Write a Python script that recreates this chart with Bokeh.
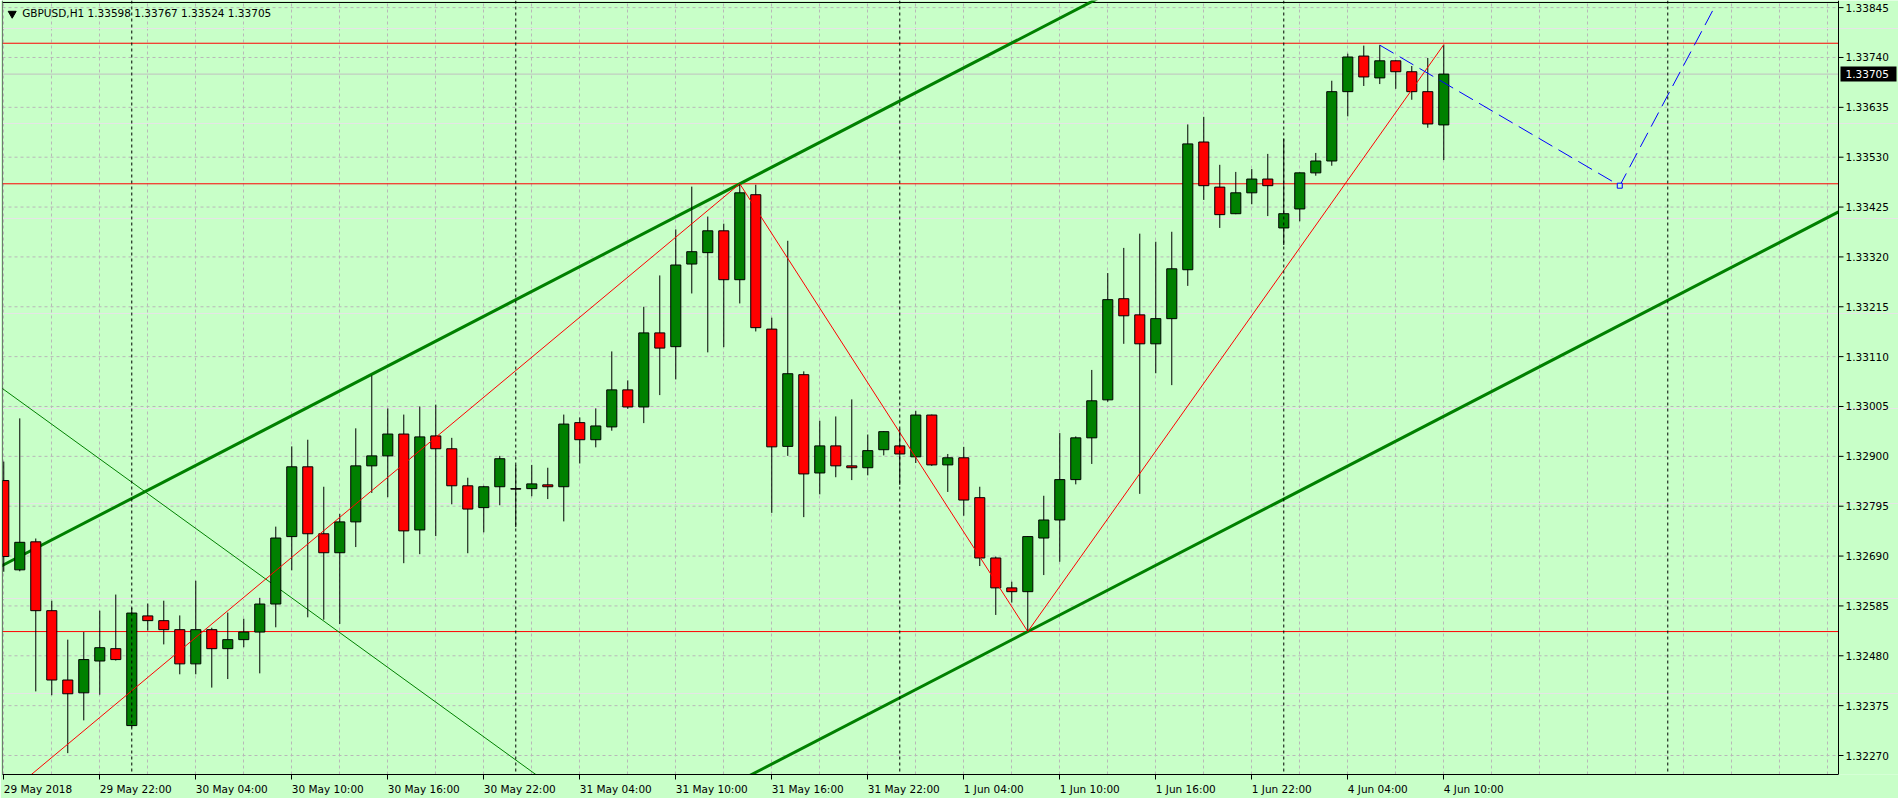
from bokeh.plotting import figure
from bokeh.models import Range1d, FixedTicker, Span, ColumnDataSource
from bokeh.core.properties import value
from bokeh.embed import file_html
from bokeh.resources import INLINE

# ---------------- data ----------------
symbol = "GBPUSD,H1"
last_ohlc = ["1.33598", "1.33767", "1.33524", "1.33705"]
bid_price = 1.33705
bid_label = "1.33705"

# bar index 0 = 29 May 22:00 (H1 bars, weekend skipped)
bar_index = list(range(-6, 85))

opens = [1.32849, 1.32661, 1.32720, 1.32575, 1.32429, 1.32402,
         1.32469, 1.32495, 1.32333, 1.32564, 1.32554, 1.32535, 1.32463, 1.32535, 1.32495, 1.32514,
         1.32530, 1.32589, 1.32731, 1.32878, 1.32737, 1.32697, 1.32762, 1.32880, 1.32901, 1.32947,
         1.32745, 1.32943, 1.32916, 1.32838, 1.32792, 1.32836, 1.32832, 1.32832, 1.32840, 1.32836,
         1.32971, 1.32935, 1.32962, 1.33040, 1.33004, 1.33160, 1.33131, 1.33305, 1.33329, 1.33375,
         1.33272, 1.33451, 1.33168, 1.32921, 1.33072, 1.32865, 1.32922, 1.32880, 1.32876, 1.32914,
         1.32922, 1.32899, 1.32987, 1.32882, 1.32897, 1.32813, 1.32686, 1.32623, 1.32615, 1.32728,
         1.32766, 1.32851, 1.32939, 1.33019, 1.33232, 1.33198, 1.33137, 1.33190, 1.33293, 1.33562,
         1.33467, 1.33411, 1.33455, 1.33484, 1.33381, 1.33421, 1.33497, 1.33522, 1.33668, 1.33743,
         1.33697, 1.33733, 1.33710, 1.33668, 1.33598]
highs = [1.32889, 1.32980, 1.32727, 1.32596, 1.32514, 1.32530,
         1.32575, 1.32609, 1.32581, 1.32590, 1.32596, 1.32565, 1.32638, 1.32539, 1.32571, 1.32558,
         1.32602, 1.32752, 1.32921, 1.32935, 1.32836, 1.32779, 1.32959, 1.33070, 1.33001, 1.32988,
         1.33005, 1.33009, 1.32939, 1.32855, 1.32838, 1.32901, 1.32882, 1.32882, 1.32876, 1.32988,
         1.32982, 1.33001, 1.33121, 1.33060, 1.33215, 1.33281, 1.33378, 1.33468, 1.33405, 1.33390,
         1.33474, 1.33472, 1.33192, 1.33354, 1.33079, 1.32975, 1.32984, 1.33020, 1.32946, 1.32953,
         1.32958, 1.32996, 1.32988, 1.32905, 1.32920, 1.32836, 1.32689, 1.32636, 1.32732, 1.32817,
         1.32949, 1.32942, 1.33082, 1.33286, 1.33339, 1.33369, 1.33352, 1.33373, 1.33599, 1.33615,
         1.33514, 1.33499, 1.33505, 1.33537, 1.33569, 1.33498, 1.33539, 1.33691, 1.33748, 1.33765,
         1.33766, 1.33734, 1.33722, 1.33739, 1.33767]
lows = [1.32657, 1.32658, 1.32405, 1.32397, 1.32275, 1.32344,
        1.32398, 1.32470, 1.32329, 1.32533, 1.32504, 1.32441, 1.32441, 1.32413, 1.32431, 1.32498,
        1.32443, 1.32540, 1.32660, 1.32561, 1.32556, 1.32547, 1.32709, 1.32823, 1.32814, 1.32675,
        1.32694, 1.32732, 1.32799, 1.32696, 1.32740, 1.32797, 1.32751, 1.32816, 1.32810, 1.32763,
        1.32885, 1.32919, 1.32954, 1.33000, 1.32970, 1.33029, 1.33062, 1.33243, 1.33119, 1.33130,
        1.33222, 1.33163, 1.32781, 1.32901, 1.32772, 1.32820, 1.32856, 1.32850, 1.32860, 1.32902,
        1.32840, 1.32886, 1.32880, 1.32825, 1.32775, 1.32669, 1.32566, 1.32592, 1.32531, 1.32650,
        1.32678, 1.32841, 1.32884, 1.33015, 1.33137, 1.32821, 1.33075, 1.33050, 1.33259, 1.33440,
        1.33381, 1.33410, 1.33431, 1.33406, 1.33345, 1.33395, 1.33491, 1.33512, 1.33616, 1.33680,
        1.33684, 1.33674, 1.33651, 1.33592, 1.33524]
closes = [1.32689, 1.32719, 1.32575, 1.32429, 1.32400, 1.32472,
          1.32497, 1.32472, 1.32570, 1.32554, 1.32535, 1.32463, 1.32535, 1.32495, 1.32514, 1.32530,
          1.32589, 1.32728, 1.32878, 1.32737, 1.32697, 1.32762, 1.32880, 1.32901, 1.32947, 1.32743,
          1.32941, 1.32916, 1.32838, 1.32789, 1.32836, 1.32895, 1.32831, 1.32842, 1.32836, 1.32968,
          1.32935, 1.32964, 1.33040, 1.33004, 1.33160, 1.33128, 1.33303, 1.33331, 1.33375, 1.33272,
          1.33455, 1.33171, 1.32920, 1.33074, 1.32863, 1.32922, 1.32880, 1.32876, 1.32912, 1.32952,
          1.32905, 1.32987, 1.32882, 1.32897, 1.32808, 1.32686, 1.32623, 1.32615, 1.32731, 1.32766,
          1.32851, 1.32939, 1.33017, 1.33230, 1.33196, 1.33137, 1.33190, 1.33295, 1.33558, 1.33470,
          1.33409, 1.33455, 1.33484, 1.33470, 1.33411, 1.33497, 1.33522, 1.33668, 1.33741, 1.33699,
          1.33733, 1.33710, 1.33668, 1.33600, 1.33705]

# x-axis labels (every 6 bars) and their bar index
x_tick_pos = [-6, 0, 6, 12, 18, 24, 30, 36, 42, 48, 54, 60, 66, 72, 78, 84]
x_tick_labels = ["29 May 2018", "29 May 22:00", "30 May 04:00", "30 May 10:00", "30 May 16:00",
                 "30 May 22:00", "31 May 04:00", "31 May 10:00", "31 May 16:00", "31 May 22:00",
                 "1 Jun 04:00", "1 Jun 10:00", "1 Jun 16:00", "1 Jun 22:00", "4 Jun 04:00", "4 Jun 10:00"]
y_tick_labels = ["1.32270", "1.32375", "1.32480", "1.32585", "1.32690", "1.32795", "1.32900",
                 "1.33005", "1.33110", "1.33215", "1.33320", "1.33425", "1.33530", "1.33635",
                 "1.33740", "1.33845"]
y_ticks = [float(s) for s in y_tick_labels]

day_separators = [2, 26, 50, 74, 98]          # 30 May, 31 May, 1 Jun, 4 Jun, 5 Jun 00:00
h_levels = [1.33770, 1.33474, 1.32531]         # red horizontal levels

zigzag_x = [-12, 40, 58, 84]
zigzag_y = [1.32013, 1.33474, 1.32531, 1.33767]

chan_slope = 0.0001744
chan_anchor_upper = (40, 1.33474)
chan_anchor_lower = (58, 1.32531)

trend_x = [-12, 30]
trend_y = [1.33187, 1.32163]

proj_x = [80, 95, 101]
proj_y = [1.33766, 1.33470, 1.33851]

# ---------------- style / geometry ----------------
BG = "#C8FFC8"
GREEN = "#008000"
RED = "#FF0000"
GRID = "#B8B8B8"
FONT = "DejaVu Sans"
FS = "10.5px"
PX = 16.0                       # pixels per bar
X0 = -6.08                      # left edge of the frame (bar units)
AX = X0 + 1836 / PX             # position of the price scale line
X1 = X0 + 1896 / PX             # right edge of the frame
Y0, Y1 = 1.32230, 1.33860
PY = 1 / 47492.0                # price per pixel
TOP_LINE = Y1 - 2 * PY

p = figure(frame_width=1896, frame_height=774,
           x_range=Range1d(X0, X1), y_range=Range1d(Y0, Y1),
           y_axis_location=None, output_backend="svg", toolbar_location=None,
           min_border_left=2, min_border_right=0, min_border_top=0, min_border_bottom=24,
           background_fill_color=BG, border_fill_color=BG, outline_line_color=None)

# vertical grid every 3 bars
p.xgrid.ticker = FixedTicker(ticks=list(range(-6, 109, 3)))
p.xgrid.grid_line_color = GRID
p.xgrid.grid_line_dash = "3 3"

# horizontal grid (stops at the price scale)
n = len(y_ticks)
p.segment(x0=[X0] * n, x1=[AX] * n, y0=y_ticks, y1=y_ticks,
          line_color=GRID, line_dash="3 3", line_width=1)

# x axis: labels left-aligned at their time (centre shifted by half width)
cw = {c: 0.636 for c in "0123456789"}
cw.update({" ": 0.318, ":": 0.337, "M": 0.863, "a": 0.613, "y": 0.592, "J": 0.295, "u": 0.634, "n": 0.634})
def est_w(s):
    return sum(cw.get(c, 0.6) for c in s) * 10.5

lab_pos = []
for t, s in zip(x_tick_pos, x_tick_labels):
    left = max(t, X0 + 0.05)
    lab_pos.append(round(left + est_w(s) / 2 / PX, 4))

xa = p.xaxis[0]
xa.ticker = FixedTicker(ticks=lab_pos, minor_ticks=x_tick_pos)
xa.major_label_overrides = dict(zip(lab_pos, x_tick_labels))
xa.bounds = (X0, AX)
xa.axis_line_color = "black"
xa.major_tick_line_color = None
xa.minor_tick_line_color = "black"
xa.major_tick_out = 0
xa.major_tick_in = 0
xa.minor_tick_out = 5
xa.minor_tick_in = 0
xa.major_label_standoff = 3
xa.major_label_text_font = FONT
xa.major_label_text_font_size = FS
xa.major_label_text_color = "black"

# price scale (right side) drawn inside the frame so the price tag can sit on it
p.add_layout(Span(location=AX, dimension="height", line_color="black", line_width=1))
p.segment(x0=[AX] * n, x1=[AX + 5 / PX] * n, y0=y_ticks, y1=y_ticks, line_color="black", line_width=1)
p.text(x=[AX + 7 / PX] * n, y=y_ticks, text=y_tick_labels, text_font=value(FONT),
       text_font_size=value(FS), text_color="black", text_align="left", text_baseline="middle")

# frame left / top edge
p.add_layout(Span(location=X0, dimension="height", line_color="black", line_width=1))
p.segment(x0=[X0], x1=[AX], y0=[TOP_LINE], y1=[TOP_LINE], line_color="black", line_width=1)

# day separators
for d in day_separators:
    p.add_layout(Span(location=d, dimension="height", line_color="black", line_width=1, line_dash="3 3"))

# bid line
p.segment(x0=[X0], x1=[AX], y0=[bid_price], y1=[bid_price], line_color="#C0C0C0", line_width=1)

# red levels
m = len(h_levels)
p.segment(x0=[X0] * m, x1=[AX] * m, y0=h_levels, y1=h_levels, line_color=RED, line_width=1)

# thin trend line
p.line(trend_x, trend_y, line_color=GREEN, line_width=1)

# channel
cx = [-12, AX]
p.line(cx, [chan_anchor_upper[1] + chan_slope * (x - chan_anchor_upper[0]) for x in cx],
       line_color=GREEN, line_width=3)
p.line(cx, [chan_anchor_lower[1] + chan_slope * (x - chan_anchor_lower[0]) for x in cx],
       line_color=GREEN, line_width=3)

# candles
src = ColumnDataSource(dict(
    x=bar_index,
    high=highs, low=lows,
    top=[max(o, c) for o, c in zip(opens, closes)],
    bottom=[min(o, c) for o, c in zip(opens, closes)],
    color=[GREEN if c > o else RED for o, c in zip(opens, closes)],
))
p.segment(x0="x", y0="high", x1="x", y1="low", source=src, line_color="black", line_width=1)
p.vbar(x="x", width=0.63, top="top", bottom="bottom", source=src,
       fill_color="color", line_color="black", line_width=1)

# zigzag
p.line(zigzag_x, zigzag_y, line_color=RED, line_width=1)

# projection
p.line(proj_x, proj_y, line_color="#0000FF", line_width=1, line_dash="16 7")
p.scatter([proj_x[1]], [proj_y[1]], marker="square", size=5, fill_color=BG, line_color="#0000FF")

# title (top-left)
title_y = 1.33845 - 5 * PY
p.scatter([X0 + 9.7 / PX], [title_y - 1 * PY], marker="inverted_triangle", size=8,
          fill_color="black", line_color="black")
p.text(x=[X0 + 19.7 / PX], y=[title_y], text=[symbol + "  " + " ".join(last_ohlc)],
       text_font=value(FONT), text_font_size=value(FS), text_color="black",
       text_align="left", text_baseline="middle")

# current price tag on the price scale
p.rect(x=[AX + 30 / PX], y=[bid_price], width=56, height=15, width_units="screen",
       height_units="screen", fill_color="black", line_color=None)
p.text(x=[AX + 7 / PX], y=[bid_price], text=[bid_label], text_font=value(FONT),
       text_font_size=value(FS), text_color="white", text_align="left", text_baseline="middle")

open("out.html", "w").write(file_html(p, INLINE))
